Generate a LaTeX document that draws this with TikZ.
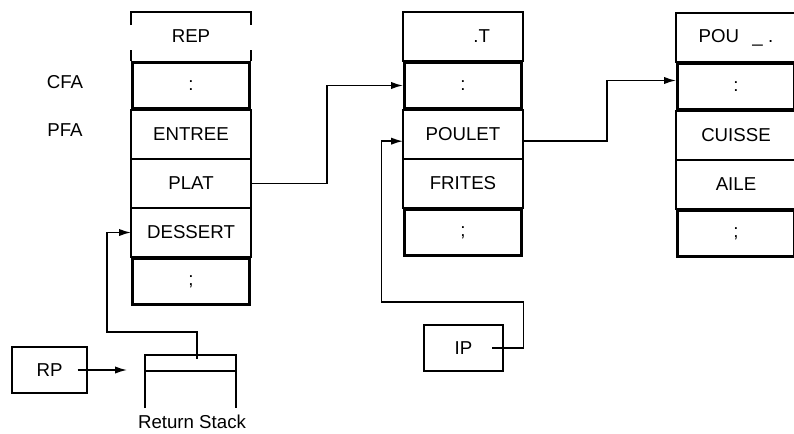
\documentclass[tikz,border=0pt]{standalone}
\usepackage{fontspec}
\setmainfont{Liberation Sans}
\usetikzlibrary{positioning,arrows.meta}
\def\wordfont{\fontsize{14}{16}\selectfont}
\def\link{\draw[arr]}

\begin{document}
\begin{tikzpicture}[x=0.75pt,y=-0.75pt,line width=1.1pt,
        cell/.style={rectangle,draw,inner sep=0pt,outer sep=0pt,
            minimum width=90pt,minimum height=36.75pt,font=\wordfont},
        code/.style={cell,line width=2.5pt,outer sep=1.25pt,
            minimum width=87.5pt,minimum height=34.25pt},
        reg/.style={rectangle,draw,inner sep=0pt,outer sep=0pt,
            minimum height=34.5pt,font=\wordfont},
        arr/.style={-{Latex[length=9pt,width=5.5pt]}}]
    \useasboundingbox (0,0) rectangle (794,433);

    % REP
    \node[cell,draw=none] (rephd) at (191,36.5) {REP};
    \node[code,below=0pt of rephd]   (repcfa)  {:};
    \node[cell,below=0pt of repcfa]  (entree)  {ENTREE};
    \node[cell,below=0pt of entree]  (plat)    {PLAT};
    \node[cell,below=0pt of plat]    (dessert) {DESSERT};
    \node[code,below=0pt of dessert] (repend)  {;};
    \draw ([yshift=-9.75pt]rephd.north west) -- (rephd.north west)
        -- (rephd.north east) -- ([yshift=-9.75pt]rephd.north east);
    \draw (rephd.south west) -- ([yshift=8pt]rephd.south west);
    \draw (rephd.south east) -- ([yshift=8pt]rephd.south east);
    \node (cfa) at (65,82) {\wordfont CFA};
    \node (pfa) at (65,130) {\wordfont PFA};

    % .T
    \node[cell] (thd) at (463,36.5) {\hspace*{28pt}.T};
    \node[code,below=0pt of thd]    (tcfa)   {:};
    \node[cell,below=0pt of tcfa]   (poulet) {POULET};
    \node[cell,below=0pt of poulet] (frites) {FRITES};
    \node[code,below=0pt of frites] (tend)   {;};

    % POULET
    \node[cell] (pouhd) at (736,37.5) {POU\hspace{10pt}\_\hspace{4pt}.};
    \node[code,below=0pt of pouhd]  (poucfa) {:};
    \node[cell,below=0pt of poucfa] (cuisse) {CUISSE};
    \node[cell,below=0pt of cuisse] (aile)   {AILE};
    \node[code,below=0pt of aile]   (pouend) {;};

    % registers and return stack
    \node[reg,minimum width=59.25pt] (ip) at (463.5,348) {IP};
    \node[reg,minimum width=56.25pt] (rp) at (49.5,370) {RP};
    \draw (145,408) |- (236,355) -- (236,408);
    \draw (145,371) -- (236,371);
    \coordinate (rstop) at (197,359);
    \coordinate (rsin) at (127,370);
    \node (rsname) at (192,422) {\wordfont Return Stack};

    \link (plat.east) -- ++(76,0) |- (tcfa.west);
    \link ([yshift=-5pt]poulet.east) -- ++(84,0) |- ([yshift=4.5pt]poucfa.west);
    \link ([xshift=-8pt]ip.east) -- ++(31,0) |- ++(-142,-46)
        |- ([yshift=-5pt]poulet.west);
    \link (rstop) -- ++(0,-27) -- ++(-90,0) |- (dessert.west);
    \link ([xshift=-7pt]rp.east) -- (rsin);
\end{tikzpicture}
\end{document}
